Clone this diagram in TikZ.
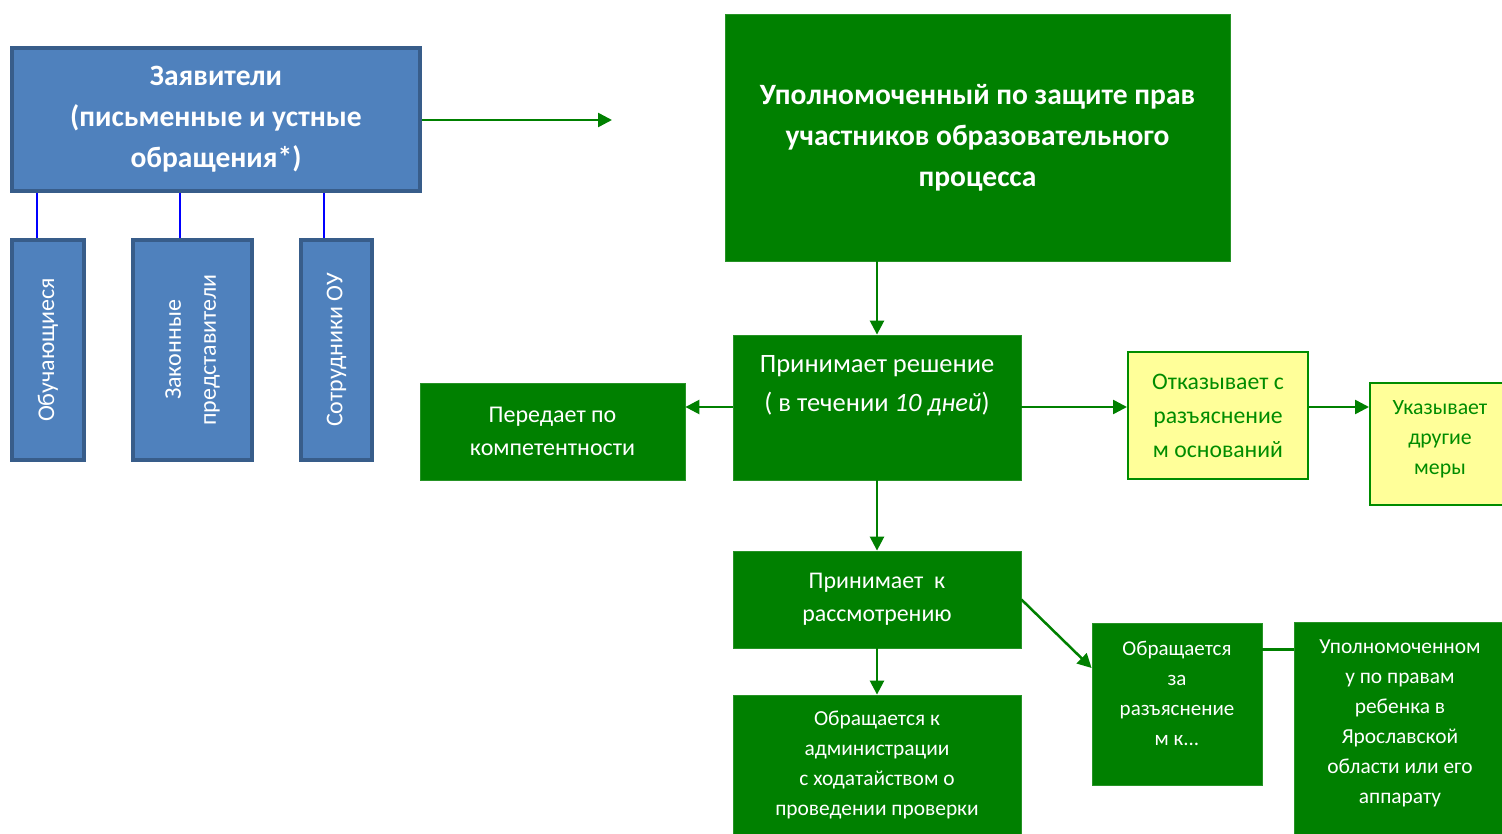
\documentclass[tikz,border=0pt]{standalone}
\usepackage{fontspec}
\setmainfont{Carlito}
\usepackage{tikz}
\usetikzlibrary{positioning,arrows.meta}
\definecolor{ablue}{RGB}{79,129,189}
\definecolor{dblue}{RGB}{56,93,138}
\definecolor{dgreen}{RGB}{0,128,0}
\definecolor{lyellow}{RGB}{255,255,153}
\definecolor{tgreen}{RGB}{0,140,0}

\begin{document}
\begin{tikzpicture}[x=1pt,y=-1pt,
    bluebox/.style={draw=dblue,fill=ablue,line width=4pt,text=white,inner sep=0pt},
    greenbox/.style={draw=dgreen!85!white,fill=dgreen,line width=0.8pt,text=white,align=center,inner sep=0pt},
    yellowbox/.style={draw=tgreen,fill=lyellow,line width=2pt,text=tgreen,align=center,inner sep=0pt},
    boxtext/.style={text=white,align=center,inner sep=0pt},
    arr/.style={draw=dgreen,line width=2.5pt,-{Triangle[length=14pt,width=14pt]}},
    tie/.style={draw=blue,line width=1.5pt}]
        \useasboundingbox (0,0) rectangle (1502,834);% page
        \node[bluebox,minimum width=408,minimum height=143,align=center,
          font=\fontsize{29.5}{41}\selectfont\bfseries] (app) at (216,119.5)
          {Заявители\\(письменные и устные\\обращения*)};
        \node[bluebox,minimum width=220,minimum height=72,rotate=90,
          font=\fontsize{24}{35}\selectfont] (stu) at (48,350) {Обучающиеся};
        \node[bluebox,minimum width=220,minimum height=119,rotate=90,align=center,
          font=\fontsize{24}{35}\selectfont] (par) at (192.5,350) {Законные\\представители};
        \node[bluebox,minimum width=220,minimum height=71,rotate=90,
          font=\fontsize{24}{35}\selectfont] (emp) at (336.5,350) {Сотрудники ОУ};
        \draw[tie] (app.south -| 37,0) -- (stu.east -| 37,0);
        \draw[tie] (app.south -| 180,0) -- (par.east -| 180,0);
        \draw[tie] (app.south -| 324,0) -- (emp.east -| 324,0);
        \coordinate (out) at (612,120);
        \draw[arr] (app.east |- out) -- (out);
        \node[greenbox,minimum width=505,minimum height=247,
          font=\fontsize{29.5}{41}\selectfont\bfseries] (omb) at (977.5,137.5)
          {Уполномоченный по защите прав\\участников образовательного\\процесса};
        \node[greenbox,minimum width=288,minimum height=145] (dec) at (877,407.5) {};
        \node[boxtext,font=\fontsize{26.5}{39}\selectfont] (dect) at (877,386)
          {Принимает решение\\( в течении \textit{10 дней})};
        \coordinate (mid) at (877,407);
        \node[greenbox,minimum width=265,minimum height=97,
          font=\fontsize{24}{33}\selectfont] (fwd) at (552.5,431.5)
          {Передает по\\компетентности};
        \node[yellowbox,minimum width=180,minimum height=127,
          font=\fontsize{23.7}{34}\selectfont] (ref) at (1218,415.5)
          {Отказывает с\\разъяснение\\м оснований};
        \node[yellowbox,minimum width=140,minimum height=122] (oth) at (1440,444) {};
        \node[boxtext,text=tgreen,font=\fontsize{21.8}{30}\selectfont] (otht) at (1440,439)
          {Указывает\\другие\\меры};
        \node[greenbox,minimum width=288,minimum height=97,
          font=\fontsize{23.9}{33}\selectfont] (acc) at (877,599.5)
          {Принимает~~к\\рассмотрению};
        \node[greenbox,minimum width=288,minimum height=150] (adm) at (877,770) {};
        \node[boxtext,font=\fontsize{21.4}{30}\selectfont] (admt) at (877,765)
          {Обращается к\\администрации\\с ходатайством о\\проведении проверки};
        \node[greenbox,minimum width=170,minimum height=162] (exp) at (1177,704) {};
        \node[boxtext,font=\fontsize{21}{30}\selectfont] (expt) at (1177,693)
          {Обращается\\за\\разъяснение\\м к...};
        \node[greenbox,minimum width=216,minimum height=230] (chi) at (1402,737) {};
        \node[boxtext,font=\fontsize{21.4}{30}\selectfont] (chit) at (1400,723)
          {Уполномоченном\\у по правам\\ребенка в\\Ярославской\\области или его\\аппарату};
        \draw[arr] (omb.south -| dec) -- (dec.north);
        \draw[arr] (dec.west |- mid) -- (fwd.east |- mid);
        \draw[arr] (dec.east |- mid) -- (ref.west |- mid);
        \draw[arr] (ref.east |- mid) -- (oth.west |- mid);
        \draw[arr] (dec) -- (acc);
        \draw[arr] (acc) -- (adm);
        \draw[arr] (acc.east) -- (exp.west |- 0,668);
        \draw[draw=dgreen,line width=3pt] (exp.east |- 0,649) -- (chi.west |- 0,649);
      \end{tikzpicture}
\end{document}
